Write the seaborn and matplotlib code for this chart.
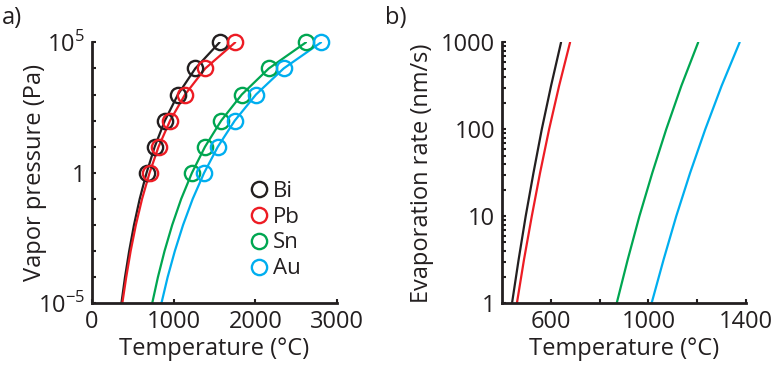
import numpy as np
import pandas as pd
import matplotlib
matplotlib.use('Agg')
import matplotlib.pyplot as plt
from matplotlib.ticker import FixedLocator, LogLocator, NullFormatter
import seaborn as sns

metals = ['Bi', 'Pb', 'Sn', 'Au']
colors = ['#231f20', '#ed1c24', '#00a651', '#00aeef']

# a) vapor pressure curves: temperature (°C) at each decade of pressure (Pa)
pressure = [1e-5, 1e-4, 1e-3, 1e-2, 1e-1, 1, 1e1, 1e2, 1e3, 1e4, 1e5]
bi_T = [360, 404, 455, 514, 584, 668, 768, 892, 1052, 1265, 1562]
pb_T = [371, 419, 473, 537, 613, 705, 815, 956, 1139, 1387, 1754]
sn_T = [737, 807, 888, 982, 1092, 1224, 1384, 1582, 1834, 2165, 2620]
au_T = [850, 926, 1014, 1115, 1233, 1373, 1541, 1748, 2008, 2347, 2805]

# tabulated points (circles), 1 Pa ... 100 kPa
point_p = [1, 1e1, 1e2, 1e3, 1e4, 1e5]
bi_pts = [668, 768, 892, 1052, 1265, 1562]
pb_pts = [705, 815, 956, 1139, 1387, 1754]
sn_pts = [1224, 1384, 1582, 1834, 2165, 2620]
au_pts = [1373, 1541, 1748, 2008, 2347, 2805]

# b) evaporation rate (nm/s) vs temperature (°C)
rate = [1, 3.16, 10, 31.6, 100, 316, 1000]
bi_rate_T = [441, 468, 497, 529, 563, 601, 642]
pb_rate_T = [461, 490, 522, 556, 593, 634, 679]
sn_rate_T = [870, 915, 963, 1016, 1073, 1135, 1204]
au_rate_T = [1013, 1062, 1114, 1171, 1233, 1300, 1374]

curves = pd.DataFrame({
    'T': bi_T + pb_T + sn_T + au_T,
    'P': pressure * 4,
    'metal': sum([[m] * len(pressure) for m in metals], []),
})
points = pd.DataFrame({
    'T': bi_pts + pb_pts + sn_pts + au_pts,
    'P': point_p * 4,
    'metal': sum([[m] * len(point_p) for m in metals], []),
})
evap = pd.DataFrame({
    'T': bi_rate_T + pb_rate_T + sn_rate_T + au_rate_T,
    'R': rate * 4,
    'metal': sum([[m] * len(rate) for m in metals], []),
})

sns.set_style('ticks')
txt = '#231f20'
plt.rcParams['font.family'] = ['Open Sans', 'DejaVu Sans']
plt.rcParams['mathtext.fontset'] = 'custom'
plt.rcParams['mathtext.rm'] = 'Open Sans'
plt.rcParams['font.size'] = 17
plt.rcParams['text.color'] = txt
plt.rcParams['axes.labelcolor'] = txt
plt.rcParams['xtick.color'] = txt
plt.rcParams['ytick.color'] = txt

fig = plt.figure(figsize=(7.74, 3.67), dpi=100)
ax1 = fig.add_axes([92 / 774, 0.1736, 245 / 774, 0.711])
ax2 = fig.add_axes([502 / 774, 0.1736, 244 / 774, 0.711])
pal = dict(zip(metals, colors))

# panel a
sns.lineplot(data=curves, x='T', y='P', hue='metal', palette=pal, sort=False,
             estimator=None, lw=1.6, legend=False, ax=ax1)
for m in metals:
    d = points[points.metal == m]
    sns.lineplot(data=d, x='T', y='P', sort=False, estimator=None, ax=ax1,
                 linestyle='', marker='o', markersize=11, markerfacecolor='none',
                 markeredgecolor=pal[m], markeredgewidth=1.7, label=m, clip_on=False)
ax1.set_yscale('log')
ax1.set_xlim(0, 3000)
ax1.set_ylim(1e-5, 1e5)
ax1.set_xticks([0, 1000, 2000, 3000])
ax1.set_yticks([1e-5, 1, 1e5], ['10$^{-5}$', '1', '10$^{5}$'])
ax1.yaxis.set_minor_locator(FixedLocator([10.0 ** k for k in range(-5, 6)]))
ax1.yaxis.set_minor_formatter(NullFormatter())
ax1.set_xlabel('Temperature (°C)', labelpad=2)
ax1.set_ylabel('Vapor pressure (Pa)', va='center')
ax1.yaxis.set_label_coords(-0.233, 0.5)
ax1.legend(loc='upper left', bbox_to_anchor=(0.654, 0.47), frameon=False,
           handlelength=0.6, handletextpad=0.33, labelspacing=0.22,
           borderpad=0, borderaxespad=0, fontsize=16)

# panel b
sns.lineplot(data=evap, x='T', y='R', hue='metal', palette=pal, sort=False,
             estimator=None, lw=1.6, legend=False, ax=ax2)
ax2.set_yscale('log')
ax2.set_xlim(400, 1400)
ax2.set_ylim(1, 1000)
ax2.set_xticks([600, 1000, 1400])
ax2.xaxis.set_minor_locator(FixedLocator([800, 1200]))
ax2.set_yticks([1, 10, 100, 1000], ['1', '10', '100', '1000'])
ax2.yaxis.set_minor_locator(LogLocator(base=10, subs=np.arange(2, 10)))
ax2.yaxis.set_minor_formatter(NullFormatter())
ax2.set_xlabel('Temperature (°C)', labelpad=2)
ax2.set_ylabel('Evaporation rate (nm/s)', va='center')
ax2.yaxis.set_label_coords(-0.329, 0.5)

for ax in (ax1, ax2):
    sns.despine(ax=ax)
    for s in ('left', 'bottom'):
        ax.spines[s].set_linewidth(2)
        ax.spines[s].set_color(txt)
    ax.tick_params(which='both', direction='in', length=3, width=1.5, pad=5)

fig.text(0.003, 0.951, 'a)', fontsize=17, va='center')
fig.text(0.497, 0.951, 'b)', fontsize=17, va='center')

fig.savefig('out.png', dpi=100)
